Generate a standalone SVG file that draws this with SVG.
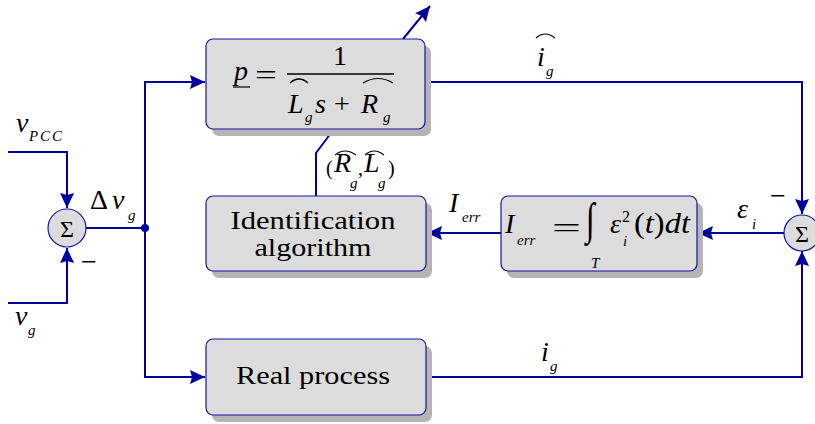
<svg xmlns="http://www.w3.org/2000/svg" width="815" height="424" viewBox="0 0 815 424">
<style>
.ln{fill:none;stroke:#0000A0;stroke-width:2}
.box{fill:#DCDCDC;stroke:#1414A8;stroke-width:1.2}
.sh{fill:#B4B4B4}
.sum{fill:#DCDCDC;stroke:#1414A8;stroke-width:1.2}
.acc{fill:none;stroke:#000;stroke-width:1.2}
text{font-family:'Liberation Serif','DejaVu Serif',serif;fill:#000}
.m{font-style:italic;font-size:28px}
.r{font-size:28px}
.sb{font-style:italic;font-size:15px}
.t{font-size:26px;text-anchor:middle}
</style>
<defs>
<marker id="ah" markerUnits="userSpaceOnUse" markerWidth="18" markerHeight="16" viewBox="0 -8 16 16" refX="15" refY="0" orient="auto">
<path d="M0,-7 L15,0 L0,7 L2,0 z" fill="#0000A0"/>
</marker>
</defs>

<g id="connectors">
<polyline class="ln" points="8,152 67,152 67,208" marker-end="url(#ah)"/>
<polyline class="ln" points="8,303 67,303 67,248" marker-end="url(#ah)"/>
<line class="ln" x1="86" y1="228" x2="145" y2="228"/>
<polyline class="ln" points="145,228 145,82 205,82" marker-end="url(#ah)"/>
<polyline class="ln" points="145,228 145,377 205,377" marker-end="url(#ah)"/>
<circle cx="145" cy="228" r="4" fill="#0000A0"/>
<polyline class="ln" points="425,82 802,82 802,214" marker-end="url(#ah)"/>
<polyline class="ln" points="426,377 802,377 802,251" marker-end="url(#ah)"/>
<line class="ln" x1="784" y1="233" x2="698" y2="233" marker-end="url(#ah)"/>
<line class="ln" x1="501" y1="233" x2="427" y2="233" marker-end="url(#ah)"/>
<polyline class="ln" points="316,196 316,153 334,129"/>
<line class="ln" x1="403" y1="39" x2="430" y2="6" marker-end="url(#ah)"/>
</g>

<g id="plant-model">
<rect class="sh" x="212" y="46" width="219" height="90" rx="7"/>
<rect class="box" x="206" y="39" width="219" height="90" rx="7"/>
<text class="m" x="234" y="80" font-size="30">p</text>
<line x1="233" y1="87" x2="250" y2="87" stroke="#000" stroke-width="1.2"/>
<text class="r" x="255" y="84" textLength="22" lengthAdjust="spacingAndGlyphs" font-size="32">=</text>
<line x1="287" y1="74" x2="394" y2="74" stroke="#000" stroke-width="1.3"/>
<text class="r" x="340" y="65" text-anchor="middle">1</text>
<text class="m" x="288" y="113">L</text>
<text class="sb" x="305" y="122">g</text>
<text class="m" x="315" y="113">s</text>
<text class="r" x="342" y="113" text-anchor="middle">+</text>
<text class="m" x="361" y="113">R</text>
<text class="sb" x="383" y="122">g</text>
<path class="acc" d="M290,83 Q299,75 308,83"/>
<path class="acc" d="M363,83 Q378,74 393,83"/>
</g>

<g id="identification">
<rect class="sh" x="212" y="203" width="220" height="75" rx="7"/>
<rect class="box" x="206" y="196" width="220" height="75" rx="7"/>
<text class="t" x="313" y="229" textLength="165" lengthAdjust="spacingAndGlyphs">Identification</text>
<text class="t" x="313" y="256" textLength="117" lengthAdjust="spacingAndGlyphs">algorithm</text>
</g>

<g id="integral">
<rect class="sh" x="507" y="203" width="196" height="75" rx="7"/>
<rect class="box" x="501" y="196" width="196" height="75" rx="7"/>
<text class="m" x="505" y="233" font-size="30">I</text>
<text class="sb" x="517" y="245" font-size="17">err</text>
<text class="r" x="552" y="237" textLength="29" lengthAdjust="spacingAndGlyphs" font-size="34">=</text>
<text class="r" transform="translate(586,234) scale(1.15,1.6)" font-size="46">∫</text>
<text class="sb" x="591" y="268" font-size="16">T</text>
<text class="m" x="610" y="233">ε</text>
<text x="622" y="222" font-size="16">2</text>
<text class="sb" x="623" y="246" font-size="15">i</text>
<text x="634" y="233" font-size="30" textLength="56" lengthAdjust="spacingAndGlyphs">(<tspan font-style="italic">t</tspan>)<tspan font-style="italic">dt</tspan></text>
</g>

<g id="real-process">
<rect class="sh" x="212" y="346" width="220" height="76" rx="7"/>
<rect class="box" x="206" y="339" width="220" height="76" rx="7"/>
<text class="t" x="313" y="384" font-size="28" textLength="154" lengthAdjust="spacingAndGlyphs">Real process</text>
</g>

<g id="sum-left">
<circle class="sum" cx="67" cy="228" r="19"/>
<text x="67" y="237" font-size="24" text-anchor="middle">Σ</text>
</g>

<g id="sum-right">
<circle class="sum" cx="802" cy="233" r="18"/>
<text x="802" y="242" font-size="24" text-anchor="middle">Σ</text>
</g>

<g id="labels">
<text class="m" x="16" y="132">v</text>
<text class="sb" x="29" y="141" textLength="33">PCC</text>
<text class="m" x="15" y="325">v</text>
<text class="sb" x="28" y="335">g</text>
<text class="r" x="90" y="209">Δ</text>
<text class="m" x="112" y="209">v</text>
<text class="sb" x="128" y="220">g</text>
<text class="r" x="81" y="271">−</text>
<text class="r" x="770" y="205">−</text>
<text class="m" x="737" y="218" font-size="26">ε</text>
<text class="sb" x="752" y="229">i</text>
<text class="m" x="449" y="212">I</text>
<text class="sb" x="462" y="222" font-size="16">err</text>
<path class="acc" d="M536,38 Q545,30 555,38"/>
<text class="m" x="537" y="66">i</text>
<text class="sb" x="546" y="76">g</text>
<text class="m" x="541" y="361">i</text>
<text class="sb" x="550" y="371">g</text>
<text x="326" y="175" font-size="20">(</text>
<text class="m" x="334" y="172" font-size="20">R</text>
<text class="sb" x="350" y="188" font-size="11">g</text>
<text x="358" y="175" font-size="20">,</text>
<text class="m" x="364" y="172" font-size="20">L</text>
<text class="sb" x="378" y="188" font-size="11">g</text>
<text x="388" y="175" font-size="20">)</text>
<path class="acc" d="M335,155 Q345,147 356,155"/>
<path class="acc" d="M365,155 Q374,147 384,155"/>
</g>
</svg>
